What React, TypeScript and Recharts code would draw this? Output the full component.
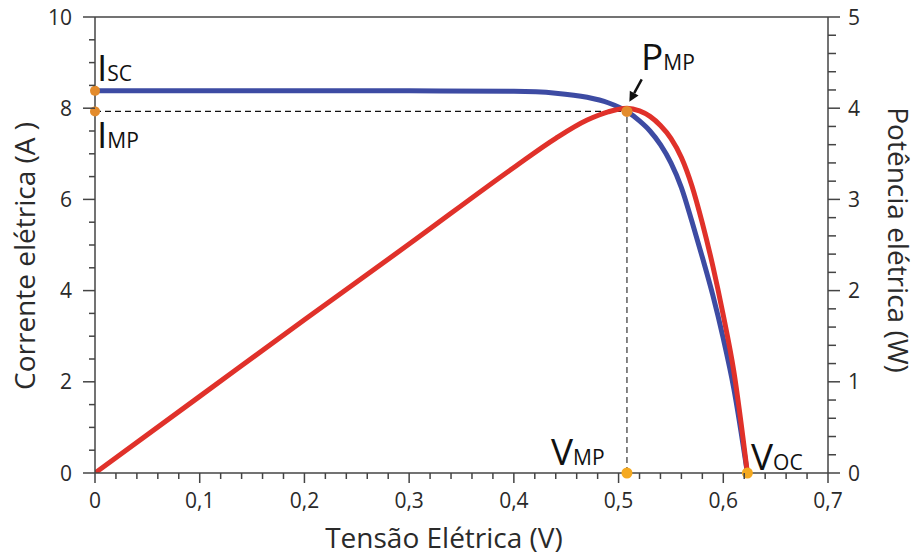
import React from "react";
import {
  LineChart,
  Line,
  XAxis,
  YAxis,
  ReferenceLine,
  ReferenceDot,
} from "recharts";

// I–V curve (Corrente elétrica, A)
const ivVoltage = [0, 0.1, 0.2, 0.3, 0.4, 0.44, 0.47, 0.49, 0.508, 0.52, 0.53, 0.54, 0.55, 0.56, 0.57, 0.58, 0.59, 0.6, 0.61, 0.623];
const ivCurrent = [8.38, 8.38, 8.38, 8.38, 8.37, 8.33, 8.24, 8.12, 7.93, 7.72, 7.5, 7.2, 6.8, 6.26, 5.52, 4.73, 3.9, 2.95, 1.86, 0];

// P–V curve (Potência elétrica, W)
const pvVoltage = [0, 0.1, 0.2, 0.3, 0.4, 0.44, 0.47, 0.49, 0.508, 0.52, 0.53, 0.54, 0.55, 0.56, 0.57, 0.58, 0.59, 0.6, 0.61, 0.623];
const pvPower = [0, 0.84, 1.68, 2.51, 3.35, 3.67, 3.87, 3.96, 4.0, 3.97, 3.91, 3.81, 3.67, 3.46, 3.15, 2.74, 2.27, 1.73, 1.12, 0];

// Key points
const ISC = 8.38;
const IMP = 7.93;
const VMP = 0.508;
const VOC = 0.623;

// Axis ticks
const xMajorTicks = [0, 0.1, 0.2, 0.3, 0.4, 0.5, 0.6, 0.7];
const leftMajorTicks = [0, 2, 4, 6, 8, 10];
const rightMajorTicks = [0, 1, 2, 3, 4, 5];

const xTicks = Array.from({ length: 36 }, (_, k) => Math.round(k * 2) / 100);
const leftTicks = Array.from({ length: 21 }, (_, k) => k * 0.5);
const rightTicks = Array.from({ length: 26 }, (_, k) => Math.round(k * 2) / 10);

const ivData = ivVoltage.map((v, i) => ({ v, i: ivCurrent[i] }));
const pvData = pvVoltage.map((v, i) => ({ v, p: pvPower[i] }));

const FONT = "'Open Sans', 'Noto Sans', sans-serif";
const AXIS = "#444";
const TXT = "#2a2a2a";
const BLUE = "#3D4BA3";
const RED = "#E0312A";
const ORANGE = "#E38B2C";
const YELLOW = "#F5A91F";

const isMajor = (v: number, list: number[]) => list.some((m) => Math.abs(m - v) < 1e-6);

const fmtX = (v: number) => (v === 0 ? "0" : v.toFixed(1).replace(".", ","));

const XTick = (props: any) => {
  const { x, y, payload } = props;
  const major = isMajor(payload.value, xMajorTicks);
  return (
    <g>
      <line x1={x} x2={x} y1={y} y2={y + (major ? 10 : 6)} stroke={AXIS} strokeWidth={1.5} />
      {major && (
        <text x={x} y={y + 35} textAnchor="middle" fontFamily={FONT} fontSize={21} fill={TXT}>
          {fmtX(payload.value)}
        </text>
      )}
    </g>
  );
};

const LeftTick = (props: any) => {
  const { x, y, payload } = props;
  const major = isMajor(payload.value, leftMajorTicks);
  return (
    <g>
      <line x1={x} x2={x - (major ? 12 : 6)} y1={y} y2={y} stroke={AXIS} strokeWidth={1.5} />
      {major && (
        <text x={x - 23} y={y + 7.5} textAnchor="end" fontFamily={FONT} fontSize={21} fill={TXT}>
          {payload.value}
        </text>
      )}
    </g>
  );
};

const RightTick = (props: any) => {
  const { x, y, payload } = props;
  const major = isMajor(payload.value, rightMajorTicks);
  return (
    <g>
      <line x1={x} x2={x + (major ? 12 : 8)} y1={y} y2={y} stroke={AXIS} strokeWidth={1.5} />
      {major && (
        <text x={x + 20} y={y + 7.5} textAnchor="start" fontFamily={FONT} fontSize={21} fill={TXT}>
          {payload.value}
        </text>
      )}
    </g>
  );
};

const ArrowShape = (props: any) => {
  const { x1, y1, x2, y2 } = props;
  if ([x1, y1, x2, y2].some((n) => typeof n !== "number" || isNaN(n))) return null;
  const dx = x2 - x1;
  const dy = y2 - y1;
  const len = Math.sqrt(dx * dx + dy * dy) || 1;
  const ux = dx / len;
  const uy = dy / len;
  const hl = 10;
  const hw = 5;
  const bx = x2 - ux * hl;
  const by = y2 - uy * hl;
  const pts = `${x2},${y2} ${bx - uy * hw},${by + ux * hw} ${bx + uy * hw},${by - ux * hw}`;
  return (
    <g>
      <line x1={x1} y1={y1} x2={bx} y2={by} stroke="#111" strokeWidth={2.5} />
      <polygon points={pts} fill="#111" />
    </g>
  );
};

export default function App() {
  return (
    <div style={{ position: "absolute", left: 0, top: 0, width: 920, height: 555, background: "#fff" }}>
      <LineChart
        width={920}
        height={555}
        margin={{ top: 17, right: 32, bottom: 42, left: 35 }}
      >
        <XAxis
          dataKey="v"
          type="number"
          domain={[0, 0.7]}
          ticks={xTicks}
          interval={0}
          tickSize={0}
          tickMargin={0}
          tick={<XTick />}
          axisLine={{ stroke: AXIS, strokeWidth: 1.5 }}
          tickLine={false}
          height={40}
          allowDataOverflow
        />
        <YAxis
          yAxisId="I"
          type="number"
          domain={[0, 10]}
          ticks={leftTicks}
          interval={0}
          tickSize={0}
          tickMargin={0}
          tick={<LeftTick />}
          axisLine={{ stroke: AXIS, strokeWidth: 1.5 }}
          tickLine={false}
          width={60}
          allowDataOverflow
        />
        <YAxis
          yAxisId="P"
          orientation="right"
          type="number"
          domain={[0, 5]}
          ticks={rightTicks}
          interval={0}
          tickSize={0}
          tickMargin={0}
          tick={<RightTick />}
          axisLine={{ stroke: AXIS, strokeWidth: 1.5 }}
          tickLine={false}
          width={60}
          allowDataOverflow
        />
        <ReferenceLine yAxisId="I" y={10} stroke={AXIS} strokeWidth={1.5} />
        <ReferenceLine
          yAxisId="I"
          segment={[{ x: 0, y: IMP }, { x: VMP, y: IMP }]}
          stroke="#111"
          strokeWidth={1.3}
          strokeDasharray="6 4"
        />
        <ReferenceLine
          yAxisId="I"
          segment={[{ x: VMP, y: 0 }, { x: VMP, y: IMP }]}
          stroke="#444"
          strokeWidth={1.3}
          strokeDasharray="6 4"
        />
        <Line
          yAxisId="I"
          data={ivData}
          dataKey="i"
          type="monotone"
          stroke={BLUE}
          strokeWidth={5}
          dot={false}
          activeDot={false}
          isAnimationActive={false}
        />
        <Line
          yAxisId="P"
          data={pvData}
          dataKey="p"
          type="monotone"
          stroke={RED}
          strokeWidth={5}
          dot={false}
          activeDot={false}
          isAnimationActive={false}
        />
        <ReferenceLine
          yAxisId="I"
          segment={[{ x: 0.5221, y: 8.63 }, { x: 0.5103, y: 8.14 }]}
          shape={<ArrowShape />}
        />
        <ReferenceDot yAxisId="I" x={0} y={ISC} r={5} fill={ORANGE} stroke="none" />
        <ReferenceDot yAxisId="I" x={0} y={IMP} r={5} fill={ORANGE} stroke="none" />
        <ReferenceDot yAxisId="I" x={VMP} y={IMP} r={5.5} fill={ORANGE} stroke="none" />
        <ReferenceDot yAxisId="I" x={VMP} y={0} r={5.5} fill={YELLOW} stroke="none" />
        <ReferenceDot yAxisId="I" x={VOC} y={0} r={5.5} fill={YELLOW} stroke="none" />
      </LineChart>
      <svg
        width={920}
        height={555}
        style={{ position: "absolute", left: 0, top: 0, pointerEvents: "none" }}
      >
        <g fontFamily={FONT} fill="#111">
          <text x={97} y={81} fontSize={37}>
            I<tspan fontSize={21}>SC</tspan>
          </text>
          <text x={97} y={148} fontSize={37}>
            I<tspan fontSize={21}>MP</tspan>
          </text>
          <text x={641} y={70} fontSize={37}>
            P<tspan fontSize={21}>MP</tspan>
          </text>
          <text x={551} y={465} fontSize={37}>
            V<tspan fontSize={21}>MP</tspan>
          </text>
          <text x={751} y={470} fontSize={37}>
            V<tspan fontSize={21}>OC</tspan>
          </text>
        </g>
        <g fontFamily={FONT} fill={TXT} fontSize={28}>
          <text x={444} y={548} textAnchor="middle">
            Tensão Elétrica (V)
          </text>
          <text textAnchor="middle" transform="translate(35,256) rotate(-90)">
            Corrente elétrica (A )
          </text>
          <text textAnchor="middle" transform="translate(888,240) rotate(90)">
            Potência elétrica (W)
          </text>
        </g>
      </svg>
    </div>
  );
}
